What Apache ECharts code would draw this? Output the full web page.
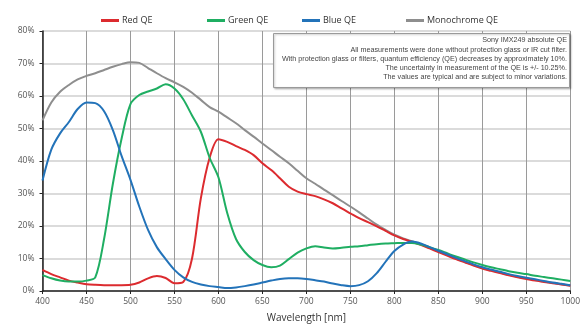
<!DOCTYPE html>
<html>
<head>
<meta charset="utf-8">
<script src="https://cdn.jsdelivr.net/npm/echarts@6/dist/echarts.min.js"></script>
<style>
  html, body {margin: 0; padding: 0; background: #fff;}
  #chart {width: 583px; height: 329px;}
</style>
</head>
<body>
<div id="chart"></div>
<script>
// wavelength in nm, QE in %
var wavelengths = [];
for (var w = 400; w <= 1000; w += 10) wavelengths.push(w);

var redQE = [6.5, 5.2, 4.2, 3.2, 2.6, 2.1, 1.9, 1.8, 1.8, 1.8, 1.9, 2.6, 3.9, 4.6, 4.0, 2.4, 2.8, 10, 28.5, 41,
  46.7, 45.9, 44.6, 43.4, 41.8, 39.3, 37.2, 34.7, 32.1, 30.6, 29.8, 29.2, 28.2, 27, 25.4, 23.9, 22.4, 21.2, 19.9, 18.5,
  17.1, 16, 15.1, 14.2, 13.1, 12, 10.9, 9.8, 8.8, 7.8, 6.9, 6.2, 5.5, 4.8, 4.2, 3.7, 3.2, 2.8, 2.4, 2.0, 1.6];
var greenQE = [4.9, 3.9, 3.2, 2.9, 2.9, 3.2, 4.2, 16, 33, 47, 57.5, 60.3, 61.4, 62.3, 63.6, 62.3, 59, 54, 49, 41,
  35, 24, 16, 12, 9.5, 8, 7.3, 7.8, 9.8, 11.8, 13.1, 13.8, 13.4, 13.1, 13.3, 13.6, 13.8, 14.1, 14.4, 14.6,
  14.7, 14.8, 14.8, 14.3, 13.5, 12.6, 11.6, 10.6, 9.7, 8.8, 8, 7.3, 6.7, 6.1, 5.6, 5.2, 4.7, 4.3, 3.9, 3.5, 3.1];
var blueQE = [34, 43.5, 48.5, 52, 56, 58, 57.8, 55.3, 49.5, 41.5, 34.2, 26, 18.8, 13.5, 9.8, 6.5, 4.2, 2.8, 2, 1.5,
  1.2, 0.9, 1.1, 1.5, 2, 2.6, 3.2, 3.7, 3.9, 3.9, 3.7, 3.3, 2.9, 2.3, 1.8, 1.5, 1.8, 3, 5.5, 9,
  12.3, 14.3, 15.2, 14.6, 13.5, 12.4, 11.3, 10.2, 9.2, 8.2, 7.3, 6.6, 5.9, 5.2, 4.6, 4.1, 3.6, 3.1, 2.6, 2.2, 1.8];
var monoQE = [52.5, 58, 61.3, 63.4, 65.1, 66.2, 67, 68, 69, 69.8, 70.4, 70.2, 68.6, 67, 65.5, 64.2, 62.8, 61, 58.8, 56.6,
  55.2, 53.4, 51.6, 49.5, 47.5, 45.4, 43.4, 41.3, 39.3, 37, 34.7, 33, 31.2, 29.5, 27.7, 26, 24.2, 22.3, 20.4, 18.8,
  17.3, 16.2, 15.3, 14.4, 13.3, 12.2, 11.1, 10, 9, 8, 7.1, 6.4, 5.7, 5, 4.4, 3.9, 3.4, 2.9, 2.5, 2.1, 1.7];

var seriesNames = ['Red QE', 'Green QE', 'Blue QE', 'Monochrome QE'];
var seriesColors = ['#dc2b2f', '#1fae62', '#2373b9', '#8e8e8e'];
var notes = [
  'Sony IMX249 absolute QE',
  'All measurements were done without protection glass or IR cut filter.',
  'With protection glass or filters, quantum efficiency (QE) decreases by approximately 10%.',
  'The uncertainty in measurement of the QE is +/- 10.25%.',
  'The values are typical and are subject to minor variations.'
];

function pairs(vals) {
  return wavelengths.map(function (w, i) { return [w, vals[i]]; });
}

var font = 'Open Sans';
var chart = echarts.init(document.getElementById('chart'));

var legendLeft = [96, 202, 297, 401];
var legends = seriesNames.map(function (n, i) {
  return {
    data: [n], left: legendLeft[i], top: 11,
    icon: 'rect', itemWidth: 18, itemHeight: 3, itemGap: 4,
    textStyle: {fontFamily: font, fontSize: 9, color: '#333', padding: [0, 0, 0, -2]}
  };
});

var noteTexts = notes.map(function (t, i) {
  return {
    type: 'text', right: 16, top: 37 + i * 9.2, z: 101,
    style: {text: t, font: '7.2px "Liberation Sans"', fill: '#444', textAlign: 'right'}
  };
});

chart.setOption({
  animation: false,
  textStyle: {fontFamily: font},
  legend: legends,
  grid: {left: 42.5, right: 11.5, top: 31, bottom: 38},
  xAxis: {
    type: 'value', min: 400, max: 1000, interval: 50,
    name: 'Wavelength [nm]', nameLocation: 'middle', nameGap: 22,
    nameTextStyle: {fontFamily: font, fontSize: 10, color: '#333'},
    axisLine: {lineStyle: {color: '#222', width: 1.5}},
    axisTick: {show: true, inside: false, length: 3, lineStyle: {color: '#222'}},
    axisLabel: {fontSize: 8.5, color: '#555', margin: 6, formatter: function (v) { return String(v); }},
    splitLine: {show: true, lineStyle: {color: '#9a9a9a', width: 1}}
  },
  yAxis: {
    type: 'value', min: 0, max: 80, interval: 10,
    axisLine: {show: true, lineStyle: {color: '#222', width: 1.5}},
    axisTick: {show: true, length: 3, lineStyle: {color: '#222'}},
    axisLabel: {formatter: '{value}%', fontSize: 8.5, color: '#555', margin: 8},
    splitLine: {show: true, lineStyle: {color: '#cfcfcf', width: 1.5}}
  },
  graphic: [{
    type: 'rect', left: 273, top: 33, z: 100,
    shape: {x: 0, y: 0, width: 296, height: 54},
    style: {fill: '#fff', stroke: '#9a9a9a', lineWidth: 1, shadowColor: 'rgba(0,0,0,0.25)', shadowBlur: 2, shadowOffsetX: 1, shadowOffsetY: 1}
  }].concat(noteTexts),
  series: [redQE, greenQE, blueQE, monoQE].map(function (vals, i) {
    return {
      name: seriesNames[i], type: 'line', data: pairs(vals),
      showSymbol: false, smooth: 0.3,
      lineStyle: {color: seriesColors[i], width: 2},
      itemStyle: {color: seriesColors[i]},
      z: i === 3 ? 1 : 2
    };
  })
});
</script>
</body>
</html>
